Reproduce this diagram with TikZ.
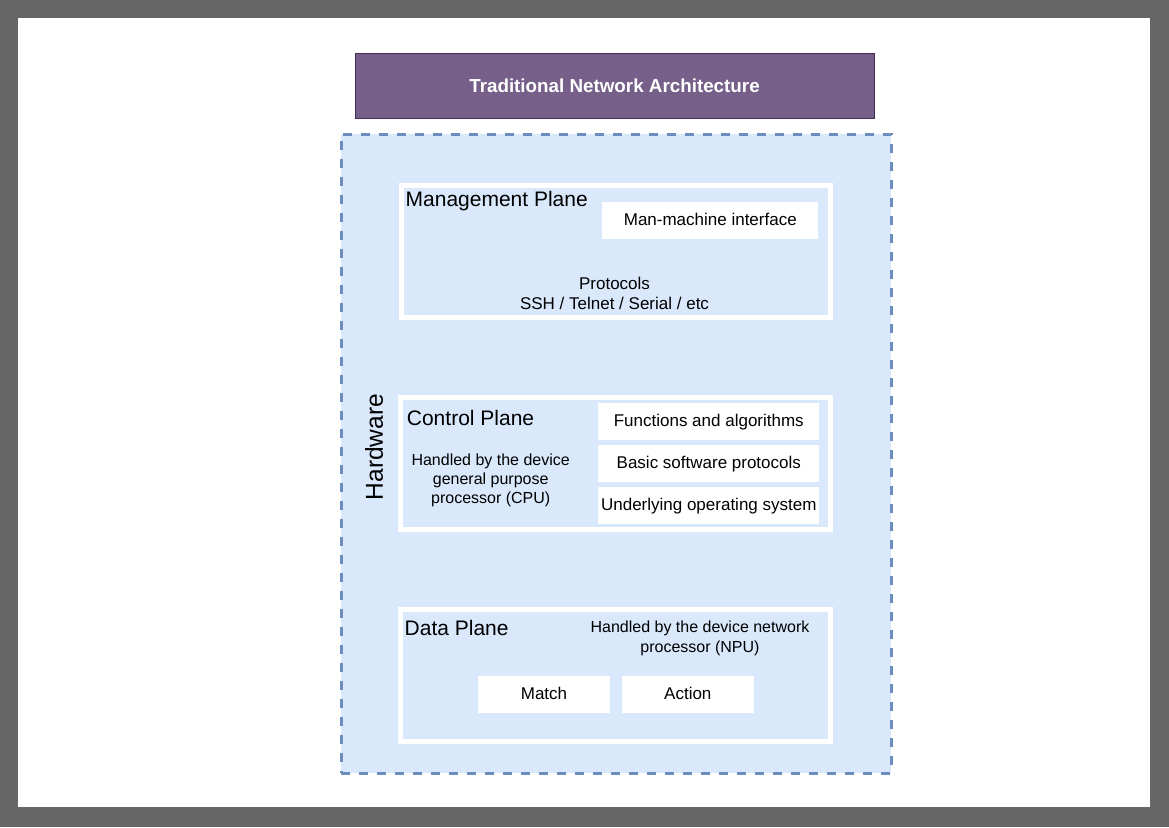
\documentclass[tikz,border=0pt]{standalone}
\usepackage{fontspec}
\setmainfont{Liberation Sans}
\definecolor{frame}{HTML}{666666}
\definecolor{purplefill}{HTML}{76608A}
\definecolor{purpleline}{HTML}{432D57}
\definecolor{bluefill}{HTML}{DAE8FC}
\definecolor{blueline}{HTML}{6C8EBF}
\tikzset{
  title/.style={draw=purpleline, line width=1pt, fill=purplefill, text=white,
    font=\fontsize{18.8}{22}\selectfont\bfseries, inner sep=0pt},
  container/.style={draw=blueline, fill=bluefill, line width=3pt,
    dash pattern=on 9pt off 9pt, inner sep=0pt},
  plane/.style={draw=white, fill=bluefill, line width=5pt, inner sep=0pt},
  item/.style={fill=white, draw=none, inner sep=0pt, text height=12.3pt, text depth=1.5pt,
    font=\fontsize{17}{20}\selectfont},
  planelabel/.style={anchor=base west, inner sep=0pt,
    font=\fontsize{21}{24}\selectfont},
  note/.style={inner sep=0pt, align=center},
}
\begin{document}
\begin{tikzpicture}[x=1pt,y=-1pt]
\useasboundingbox (0,0) rectangle (1169,827);
\fill[frame] (0,0) rectangle (1169,827);
\fill[white] (18,18) rectangle (1150,807);

\node[title, minimum width=519pt, minimum height=65pt] (title) at (614.5,85.8) {Traditional Network Architecture};

\node[container, minimum width=550pt, minimum height=639pt] (hw) at (616,453.5) {};
\node[rotate=90, inner sep=0pt, font=\fontsize{24.5}{28}\selectfont] (hwlabel) at (374,447) {Hardware};

% Management plane
\node[plane, minimum width=429.5pt, minimum height=132pt] (mgmt) at (615.75,251.5) {};
\node[planelabel] (mgmtlabel) at (405.5,206.7) {Management Plane};
\node[item, minimum width=216pt, minimum height=37.6pt] (mmi) at (710.3,220.5) {Man-machine interface};
\node[note, font=\fontsize{17}{20}\selectfont] (proto) at (614.5,293) {Protocols\\SSH / Telnet / Serial / etc};

% Control plane
\node[plane, minimum width=430pt, minimum height=131.7pt] (ctrl) at (615.8,463.4) {};
\node[planelabel] (ctrllabel) at (406.7,425) {Control Plane};
\node[note, font=\fontsize{16}{19}\selectfont] (cpu) at (490.7,480) {Handled by the device\\general purpose\\processor (CPU)};
\node[item, minimum width=221pt, minimum height=37.3pt] (func) at (708.8,421.3) {Functions and algorithms};
\node[item, minimum width=221pt, minimum height=37.3pt] (basic) at (708.8,463.5) {Basic software protocols};
\node[item, minimum width=221pt, minimum height=37.3pt] (os) at (708.8,505.4) {Underlying operating system};

% Data plane
\node[plane, minimum width=429.6pt, minimum height=132.3pt] (data) at (615.7,675.3) {};
\node[planelabel] (datalabel) at (404.5,635) {Data Plane};
\node[note, font=\fontsize{16}{20}\selectfont] (npu) at (700,638) {Handled by the device network\\processor (NPU)};
\node[item, minimum width=132pt, minimum height=37.6pt] (match) at (544,694.5) {Match};
\node[item, minimum width=131.6pt, minimum height=37.6pt] (action) at (687.8,694.5) {Action};
\end{tikzpicture}
\end{document}
